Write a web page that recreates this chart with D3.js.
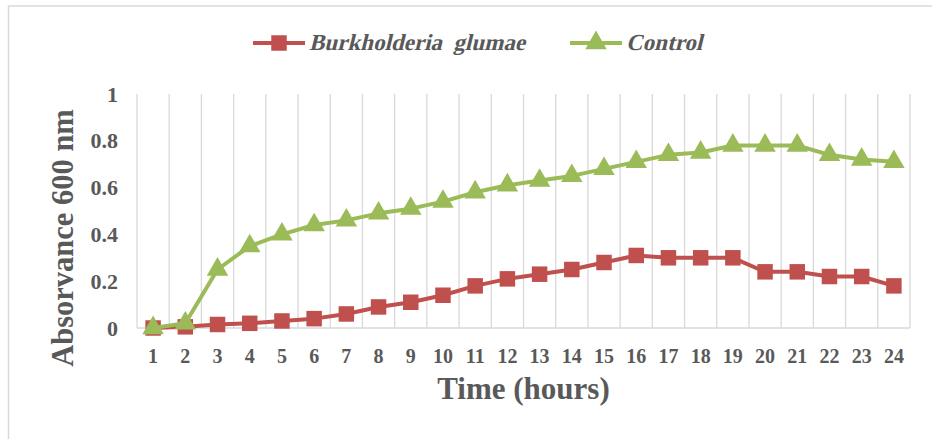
<!DOCTYPE html>
<html lang="en">
<head>
    <meta charset="UTF-8">
    <title>Absorbance over time</title>
    <script src="https://d3js.org/d3.v7.min.js"></script>
    <style>
        body { margin: 0; background: #fff; }
        svg text { font-family: "Liberation Serif", "DejaVu Serif", serif; font-weight: bold; fill: #595959; }
    </style>
</head>
<body>
    <svg id="chart" width="932" height="439"></svg>
    <script>
        const hours = d3.range(1, 25).map(String);
        const burkholderia = [0, 0.005, 0.015, 0.02, 0.03, 0.04, 0.06, 0.09, 0.11, 0.14, 0.18, 0.21,
                              0.23, 0.25, 0.28, 0.31, 0.30, 0.30, 0.30, 0.24, 0.24, 0.22, 0.22, 0.18];
        const control = [0, 0.02, 0.25, 0.35, 0.40, 0.44, 0.46, 0.49, 0.51, 0.54, 0.58, 0.61,
                         0.63, 0.65, 0.68, 0.71, 0.74, 0.75, 0.78, 0.78, 0.78, 0.74, 0.72, 0.71];
        const yTicks = [0, 0.2, 0.4, 0.6, 0.8, 1];

        const series = [
            {name: "Burkholderia  glumae", values: burkholderia, color: "#C0504D", marker: "square"},
            {name: "Control", values: control, color: "#9BBB59", marker: "triangle"}
        ];

        const svg = d3.select("#chart");
        const margin = {top: 94, right: 22, bottom: 111, left: 137};
        const width = 932 - margin.left - margin.right;
        const height = 439 - margin.top - margin.bottom;

        // outer chart border
        svg.append("rect")
            .attr("x", 8.5).attr("y", 6)
            .attr("width", 940).attr("height", 450)
            .attr("fill", "none").attr("stroke", "#d9d9d9").attr("stroke-width", 1.5);

        const g = svg.append("g").attr("transform", `translate(${margin.left},${margin.top})`);

        const x = d3.scaleBand().domain(hours).range([0, width]);
        const y = d3.scaleLinear().domain([0, 1]).range([height, 0]);

        // vertical gridlines at category boundaries
        const bounds = hours.map(h => x(h)).concat([width]);
        g.selectAll(".grid")
            .data(bounds)
            .enter().append("line")
            .attr("x1", d => d).attr("x2", d => d)
            .attr("y1", 0).attr("y2", height)
            .attr("stroke", "#d9d9d9").attr("stroke-width", 1.3);

        g.append("line")
            .attr("x1", 0).attr("x2", width)
            .attr("y1", height).attr("y2", height)
            .attr("stroke", "#d9d9d9").attr("stroke-width", 1.3);

        // axes
        const xAxis = g.append("g")
            .attr("transform", `translate(0,${height})`)
            .call(d3.axisBottom(x).tickSize(0).tickPadding(21));
        xAxis.select(".domain").remove();
        xAxis.selectAll("text").attr("font-size", 20);

        const yAxis = g.append("g")
            .call(d3.axisLeft(y).tickValues(yTicks).tickFormat(d3.format("")).tickSize(0).tickPadding(19));
        yAxis.select(".domain").remove();
        yAxis.selectAll("text").attr("font-size", 22);

        // lines and markers
        const line = d3.line()
            .x((d, i) => x(hours[i]) + x.bandwidth() / 2)
            .y(d => y(d));

        const square = d3.symbol().type(d3.symbolSquare).size(240);
        const triangle = d3.symbol().type(d3.symbolTriangle).size(200);

        series.forEach(s => {
            g.append("path")
                .datum(s.values)
                .attr("fill", "none")
                .attr("stroke", s.color)
                .attr("stroke-width", 4)
                .attr("stroke-linejoin", "round")
                .attr("d", line);

            g.selectAll(null)
                .data(s.values)
                .enter().append("path")
                .attr("transform", (d, i) => `translate(${x(hours[i]) + x.bandwidth() / 2},${y(d)})`)
                .attr("d", s.marker === "square" ? square : triangle)
                .attr("fill", s.color);
        });

        // axis titles
        svg.append("text")
            .attr("x", margin.left + width / 2)
            .attr("y", 399)
            .attr("text-anchor", "middle")
            .attr("font-size", 31)
            .text("Time (hours)");

        svg.append("text")
            .attr("transform", "translate(73,238) rotate(-90)")
            .attr("text-anchor", "middle")
            .attr("font-size", 30.5)
            .text("Absorvance 600 nm");

        // legend
        const legendPos = [253, 570];
        const legend = svg.selectAll(".legend")
            .data(series)
            .enter().append("g")
            .attr("transform", (d, i) => `translate(${legendPos[i]},43)`);

        legend.append("line")
            .attr("x1", 0).attr("x2", 52)
            .attr("stroke", d => d.color).attr("stroke-width", 4);

        legend.append("path")
            .attr("transform", "translate(26,0)")
            .attr("d", d => d.marker === "square" ? square() : triangle())
            .attr("fill", d => d.color);

        // serif bold italic is faked with a skew so the face stays serif
        legend.append("g")
            .attr("transform", "translate(56,7) skewX(-14)")
            .append("text")
            .attr("font-size", 23)
            .style("white-space", "pre")
            .text(d => d.name);
    </script>
</body>
</html>
